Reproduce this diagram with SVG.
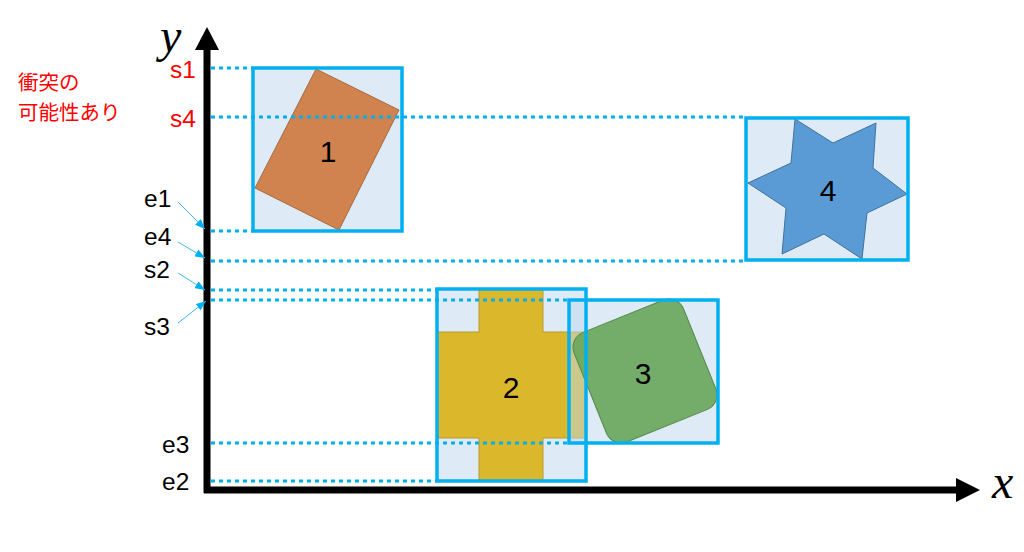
<svg xmlns="http://www.w3.org/2000/svg" width="1024" height="552" viewBox="0 0 1024 552">
<style>
.bg{fill:#BDD7EE;fill-opacity:0.5}
.box{fill:none;stroke:#00B0F0;stroke-width:3.5}
.dot{fill:none;stroke:#00B0F0;stroke-width:3;stroke-dasharray:4 4}
.ptr{fill:none;stroke:#3CB8EE;stroke-width:1;marker-end:url(#ah)}
.lbl{font-family:"Liberation Sans",Arial,sans-serif;font-size:24.5px;fill:#000}
.red{fill:#FF0000}
.num{font-family:"Liberation Sans",Arial,sans-serif;font-size:30px;fill:#000;text-anchor:middle}
.ax{font-family:"Liberation Serif","Times New Roman",serif;font-style:italic;font-size:48px;fill:#000}
.cjk{font-family:"Noto Sans CJK JP",sans-serif;font-size:20.5px;fill:#FF0000}
</style>
<defs>
<marker id="ah" viewBox="0 0 10 8" refX="10" refY="4" markerWidth="10" markerHeight="8" markerUnits="userSpaceOnUse" orient="auto">
<path d="M0,0 L10,4 L0,8 z" fill="#00B0F0"/>
</marker>
</defs>
<rect width="1024" height="552" fill="#fff"/>
<g id="axes">
<line x1="207" y1="48" x2="207" y2="493" stroke="#000" stroke-width="7"/>
<polygon points="195,50 207,27 219,50" fill="#000"/>
<line x1="204" y1="490" x2="958" y2="490" stroke="#000" stroke-width="7"/>
<polygon points="956,478 980,490 956,502" fill="#000"/>
<text class="ax" x="160" y="52">y</text>
<text class="ax" x="992" y="498">x</text>
</g>
<g id="node1">
<rect class="bg" x="253" y="68" width="149" height="163"/>
<polygon points="316,69 399,110 339,230 255,188" fill="#D0834F" stroke="#A86A3E" stroke-width="1"/>
<text class="num" x="328" y="162">1</text>
</g>
<g id="node2">
<rect class="bg" x="437" y="289" width="149" height="192"/>
<path d="M479,289 H543 V332 H586 V438 H543 V481 H479 V438 H437 V332 H479 Z" fill="#DBB82B" stroke="#B89A2C" stroke-width="1"/>
<text class="num" x="511" y="398">2</text>
</g>
<g id="node3">
<rect class="bg" x="569" y="300" width="149" height="143"/>
<rect x="-59" y="-59" width="118" height="118" rx="16" transform="translate(645,371) rotate(-22)" fill="#6AA85E" fill-opacity="0.93" stroke="#558A4A" stroke-width="1"/>
<text class="num" x="643" y="384">3</text>
</g>
<g id="node4">
<rect class="bg" x="746" y="118" width="162" height="142"/>
<polygon points="795,119 833,143 876,123 873,168 907,194 867,213 862,259 824,234 782,254 786,208 748,183 791,163" fill="#5B9BD5" stroke="#41719C" stroke-width="1"/>
<text class="num" x="828" y="201">4</text>
</g>
<g id="bounds">
<rect class="box" x="253" y="68" width="149" height="163"/>
<rect class="box" x="437" y="289" width="149" height="192"/>
<rect class="box" x="569" y="300" width="149" height="143"/>
<rect class="box" x="746" y="118" width="162" height="142"/>
</g>
<g id="connectors">
<line class="dot" x1="211" y1="68" x2="253" y2="68"/>
<line class="dot" x1="211" y1="117" x2="746" y2="117"/>
<line class="dot" x1="211" y1="231" x2="253" y2="231"/>
<line class="dot" x1="211" y1="261" x2="746" y2="261"/>
<line class="dot" x1="211" y1="290" x2="437" y2="290"/>
<line class="dot" x1="211" y1="300" x2="569" y2="300"/>
<line class="dot" x1="211" y1="443" x2="569" y2="443"/>
<line class="dot" x1="211" y1="481" x2="437" y2="481"/>
<line class="ptr" x1="178" y1="202" x2="205" y2="229"/>
<line class="ptr" x1="178" y1="242" x2="205" y2="258"/>
<line class="ptr" x1="178" y1="273" x2="205" y2="290"/>
<line class="ptr" x1="178" y1="323" x2="206" y2="301"/>
</g>
<g id="labels">
<text class="lbl red" x="196" y="78" text-anchor="end">s1</text>
<text class="lbl red" x="196" y="127" text-anchor="end">s4</text>
<text class="lbl" x="144" y="207">e1</text>
<text class="lbl" x="144" y="245">e4</text>
<text class="lbl" x="144" y="278">s2</text>
<text class="lbl" x="144" y="335">s3</text>
<text class="lbl" x="162" y="453">e3</text>
<text class="lbl" x="162" y="490">e2</text>
<text class="cjk" x="18" y="90">衝突の</text>
<text class="cjk" x="18" y="120">可能性あり</text>
</g>
</svg>
